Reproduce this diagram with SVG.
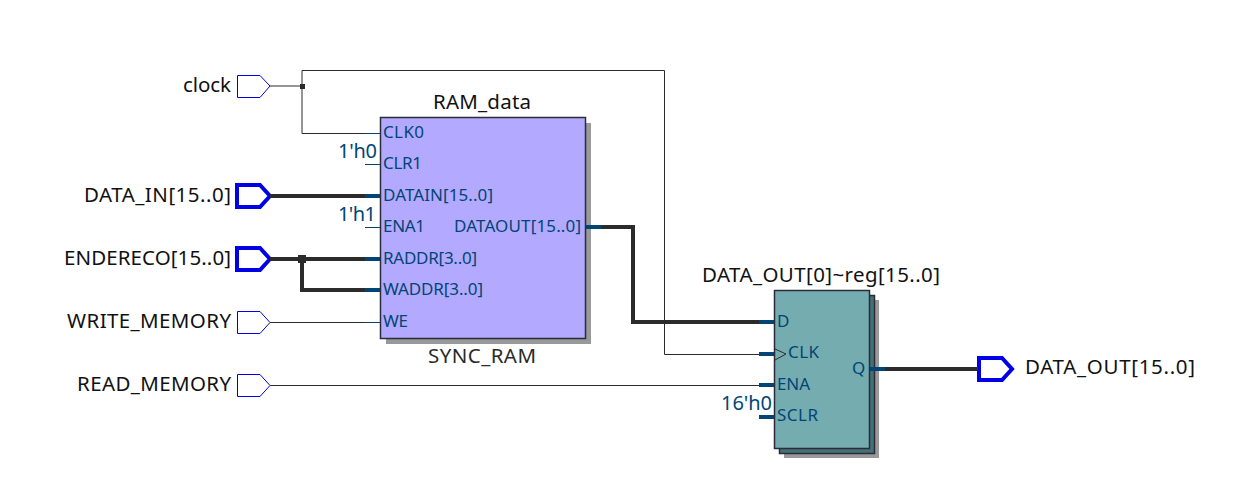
<svg xmlns="http://www.w3.org/2000/svg" width="1240" height="487" viewBox="0 0 1240 487">
<style>
text{font-family:"Noto Sans","Open Sans","DejaVu Sans",sans-serif;font-size:20.500px;lengthAdjust:spacing}
.lbl{fill:#111}
.n{fill:#2a2a2a}
.pin{fill:#004575;font-size:17px}
.c{fill:#004575;font-size:20px}
.w{fill:none;stroke:#2b2b2b;stroke-width:1}
.b{fill:none;stroke:#2b2b2b;stroke-width:4}
.s{fill:none;stroke:#004575;stroke-width:1}
.sb{fill:none;stroke:#004575;stroke-width:4}
.in{fill:#fff;stroke:#0000e6;stroke-width:1}
.inb{fill:#fff;stroke:#0000e6;stroke-width:4}
.box{stroke:#2b2b3a;stroke-width:1.5}
</style>
<rect width="1240" height="487" fill="#fff"/>
<g id="clock"><path class="in" d="M237.500 75.500H260L270 86L260 97.500H237.500Z"/><text class="lbl" x="183" y="92" textLength="48">clock</text></g>
<g id="DATA_IN"><path class="inb" d="M237 185H260L270 196L260 207H237Z"/><text class="lbl" x="84" y="202" textLength="147">DATA_IN[15..0]</text></g>
<g id="ENDERECO"><path class="inb" d="M237 248H260L270 259L260 270H237Z"/><text class="lbl" x="64" y="265" textLength="167">ENDERECO[15..0]</text></g>
<g id="WRITE_MEMORY"><path class="in" d="M237.500 311.500H260L270 322.500L260 333.500H237.500Z"/><text class="lbl" x="67" y="328" textLength="164">WRITE_MEMORY</text></g>
<g id="READ_MEMORY"><path class="in" d="M237.500 374.500H260L270 385.500L260 396.500H237.500Z"/><text class="lbl" x="77" y="391" textLength="154">READ_MEMORY</text></g>
<g id="RAM_data">
<rect x="386" y="123" width="205" height="221" fill="#999"/>
<rect class="box" x="380.500" y="117.500" width="205" height="221" fill="#b3aaff"/>
<text class="lbl" x="433" y="109" textLength="98">RAM_data</text>
<text class="n" x="428" y="363" textLength="108">SYNC_RAM</text>
<text class="pin" x="383" y="138" textLength="41">CLK0</text>
<text class="pin" x="383" y="169" textLength="39">CLR1</text>
<text class="pin" x="383" y="201" textLength="110">DATAIN[15..0]</text>
<text class="pin" x="383" y="232" textLength="42">ENA1</text>
<text class="pin" x="383" y="264" textLength="94">RADDR[3..0]</text>
<text class="pin" x="383" y="295" textLength="100">WADDR[3..0]</text>
<text class="pin" x="383" y="327" textLength="25">WE</text>
<text class="pin" x="454" y="232" textLength="127">DATAOUT[15..0]</text>
<text class="c" x="338" y="158" textLength="39">1'h0</text>
<text class="c" x="338" y="221" textLength="38">1'h1</text>
</g>
<g id="DATA_OUT_reg">
<rect x="784" y="300" width="95" height="158" fill="#999"/>
<rect class="box" x="779.500" y="295.500" width="95" height="158" fill="#447173"/>
<rect class="box" x="774.500" y="290.500" width="95" height="158" fill="#75acaf"/>
<text class="lbl" x="702" y="282" textLength="238">DATA_OUT[0]~reg[15..0]</text>
<path class="w" d="M775 349L786 354L775 360"/>
<text class="pin" x="777" y="327" textLength="11">D</text>
<text class="pin" x="788" y="358" textLength="31">CLK</text>
<text class="pin" x="777" y="390" textLength="33">ENA</text>
<text class="pin" x="777" y="421" textLength="41">SCLR</text>
<text class="pin" x="852" y="374" textLength="13">Q</text>
<text class="c" x="721" y="410" textLength="51">16'h0</text>
</g>
<g id="DATA_OUT"><path class="inb" d="M979 358H1002L1012 369L1002 380H979Z"/><text class="lbl" x="1025" y="374" textLength="170">DATA_OUT[15..0]</text></g>
<g id="connectors">
<path class="w" d="M270 86H302M302 70.500V133.500H365M302 70.500H664.500V354.500H759"/>
<path class="w" d="M270 322.500H365M270 385.500H759"/>
<path class="b" d="M270 196H365M270 259H365M302 259V290H365M601 227H633V322H759M885 369H978"/>
<rect x="300" y="84" width="5" height="5" fill="#2b2b2b"/>
<rect x="298" y="255" width="8" height="8" fill="#2b2b2b"/>
<path class="s" d="M365 133.500H380M365 164.500H380M365 227.500H380M365 322.500H380"/>
<path class="sb" d="M365 196H380M365 259H380M365 290H380M586 227H601M759 322H774M759 354H774M759 385H774M759 417H774M870 369H885"/>
</g>
</svg>
